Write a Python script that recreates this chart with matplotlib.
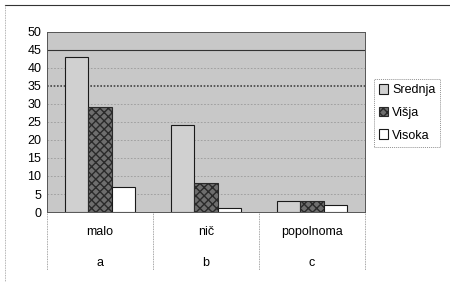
import numpy as np
import matplotlib.pyplot as plt
import matplotlib.transforms as mtransforms

# data
categories = ['malo', 'nič', 'popolnoma']
letters = ['a', 'b', 'c']
series = ['Srednja', 'Višja', 'Visoka']
srednja = [43, 24, 3]
visja = [29, 8, 3]
visoka = [7, 1, 2]
yticks = [0, 5, 10, 15, 20, 25, 30, 35, 40, 45, 50]

plt.rcParams['font.family'] = ['Liberation Sans', 'DejaVu Sans']

fig = plt.figure(figsize=(4.5, 2.82), dpi=100)
ax = fig.add_axes([0.1044, 0.248, 0.7067, 0.64])
ax.set_facecolor('#c8c8c8')

x = np.arange(len(categories))
w = 0.22
styles = [
    dict(color='#d0d0d0', edgecolor='#1a1a1a', hatch=None),
    dict(color='#6e6e6e', edgecolor='#2a2a2a', hatch='xxxx'),
    dict(color='white', edgecolor='#1a1a1a', hatch=None),
]
for i, (vals, st) in enumerate(zip([srednja, visja, visoka], styles)):
    ax.bar(x + (i - 1) * w, vals, w, label=series[i], color=st['color'],
           edgecolor=st['edgecolor'], linewidth=0.8, hatch=st['hatch'], zorder=3)

ax.set_xlim(-0.5, 2.5)
ax.set_ylim(0, 50)
ax.set_yticks(yticks)
ax.tick_params(axis='y', length=0, labelsize=9, pad=4)
ax.tick_params(axis='x', length=0, labelbottom=False)
for yv in yticks[1:]:
    if yv == 45:
        ax.axhline(yv, color='#333333', lw=0.8, zorder=1)
    elif yv == 35:
        ax.axhline(yv, color='#444444', lw=1.2, ls=(0, (1, 1)), zorder=1)
    else:
        ax.axhline(yv, color='#9a9a9a', lw=0.6, ls=(0, (2, 2)), zorder=1)
for s in ax.spines.values():
    s.set_color('#555555')
    s.set_linewidth(0.7)
    s.set_linestyle((0, (1, 1)))

# two-level category labels below the axis
trans = mtransforms.blended_transform_factory(ax.transData, ax.transAxes)
for xi, cat, let in zip(x, categories, letters):
    ax.text(xi, -0.11, cat, transform=trans, ha='center', va='center', fontsize=9)
    ax.text(xi, -0.28, let, transform=trans, ha='center', va='center', fontsize=9)
for xb in [-0.5, 0.5, 1.5, 2.5]:
    ax.plot([xb, xb], [0, -0.32], transform=trans, color='#888888', lw=0.6,
            ls=(0, (1, 1)), clip_on=False)

leg = ax.legend(loc='center left', bbox_to_anchor=(1.01, 0.55), fontsize=9,
                frameon=True, fancybox=False, handlelength=0.7, handleheight=0.8,
                handletextpad=0.3, borderpad=0.4, labelspacing=0.85)
leg.get_frame().set_edgecolor('#777777')
leg.get_frame().set_linestyle((0, (1, 1)))
leg.get_frame().set_linewidth(0.7)

# outer frame of the scanned chart
fig.add_artist(plt.Line2D([0.01, 1.0], [0.982, 0.982], color='#333333', lw=0.8))
fig.add_artist(plt.Line2D([0.012, 0.012], [0.0, 0.982], color='#999999', lw=0.6,
                          ls=(0, (1, 1))))

fig.savefig('out.png', dpi=100)
